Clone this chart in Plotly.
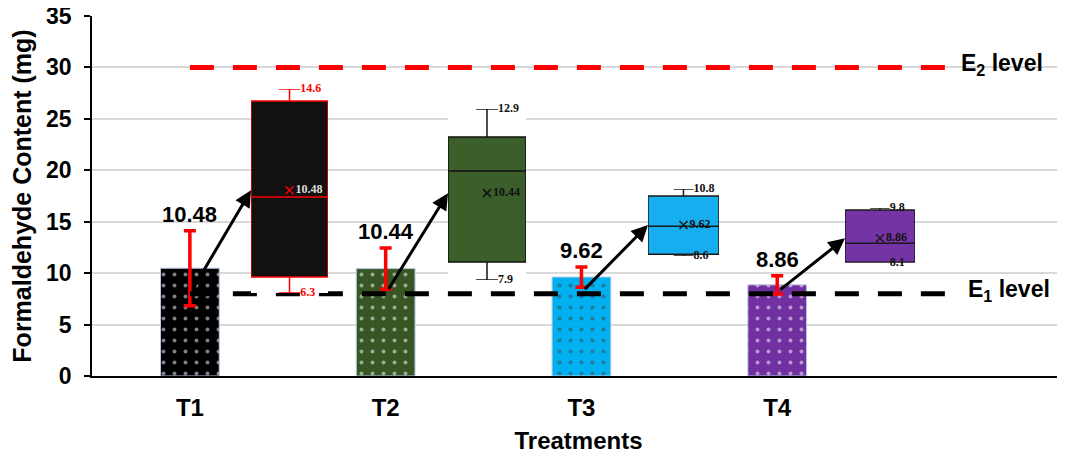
import plotly.graph_objects as go

# ---------------- data ----------------
treatments = ["T1", "T2", "T3", "T4"]
mean_content = [10.48, 10.44, 9.62, 8.86]
error_content = [3.65, 2.0, 0.98, 0.88]

box_min = [6.3, 7.9, 8.6, 8.1]
box_q1 = [6.95, 8.43, 8.66, 8.12]
box_median = [10.21, 11.09, 9.58, 8.71]
box_q3 = [14.11, 12.08, 10.57, 9.74]
box_max = [14.6, 12.9, 10.8, 9.8]
box_mean = [10.48, 10.44, 9.62, 8.86]

E1_LEVEL = 8
E2_LEVEL = 30
level_labels = ["E<sub>1</sub> level", "E<sub>2</sub> level"]

# ---------------- styles / layout ----------------
bar_colors = ["#000000", "#375623", "#00B0F0", "#7030A0"]
box_fill = ["#111111", "#3B5E2B", "#16AEEE", "#7434A6"]
box_line = ["#FF0000", "#111111", "#1a1a1a", "#1a1a1a"]
mean_text_color = ["#dddddd", "#111111", "#111111", "#111111"]
fence_text_color = ["#FF0000", "#111111", "#111111", "#111111"]

FONT = "Liberation Sans, Arial, sans-serif"
SERIF = "Liberation Serif, Times New Roman, serif"
PAGE_OFFSET = 8  # default body margin of the html page
W, H = 1065 - PAGE_OFFSET, 456 - PAGE_OFFSET
ML, MR, MT, MB = 92 - PAGE_OFFSET, 0, 16 - PAGE_OFFSET, 80
X_RANGE = [-0.5, 4.47]
Y_RANGE = [0, 35]

# inset placement (fractions of plot area)
inset_x_domain = [[0.1634, 0.2426], [0.3659, 0.4460], [0.5714, 0.6444], [0.7739, 0.8458]]
inset_y_span = [[8.07, 27.9], [9.33, 25.96], [11.67, 18.18], [11.0, 16.33]]  # main-scale
arrow_tail_y = 8.3
LINE_END = 3.95

fig = go.Figure()

xs = list(range(len(treatments)))

fig.add_trace(go.Bar(
    x=xs, y=mean_content, width=0.30,
    marker=dict(color=bar_colors,
                line=dict(color="#b8c8e6", width=1),
                pattern=dict(shape=".", fgcolor="white", bgcolor=bar_colors,
                             size=11, solidity=0.1)),
    error_y=dict(type="data", array=error_content, color="#FF0000",
                 thickness=3.5, width=6),
    showlegend=False, hoverinfo="skip",
))

# level lines
fig.add_trace(go.Scatter(x=[0, LINE_END], y=[E2_LEVEL, E2_LEVEL], mode="lines",
                         line=dict(color="#FF0000", width=5, dash="24px,19px"),
                         showlegend=False, hoverinfo="skip"))
fig.add_trace(go.Scatter(x=[0, LINE_END], y=[E1_LEVEL, E1_LEVEL], mode="lines",
                         line=dict(color="#000000", width=5, dash="24px,19px"),
                         showlegend=False, hoverinfo="skip"))

annotations = []
for i, t in enumerate(treatments):
    annotations.append(dict(
        x=i, y=mean_content[i] + error_content[i], xref="x", yref="y",
        text=f"{mean_content[i]:.2f}", showarrow=False, yanchor="bottom", yshift=2,
        font=dict(family=FONT, size=22, color="black", weight="bold")))

annotations.append(dict(x=LINE_END, y=E2_LEVEL, xref="x", yref="y", text=level_labels[1],
                        showarrow=False, xanchor="left", xshift=-4, yshift=3,
                        font=dict(family=FONT, size=23, color="black", weight="bold")))
annotations.append(dict(x=LINE_END, y=E1_LEVEL, xref="x", yref="y", text=level_labels[0],
                        showarrow=False, xanchor="left", xshift=3, yshift=3,
                        font=dict(family=FONT, size=23, color="black", weight="bold")))

layout_axes = {}
for k in range(4):
    n = k + 2
    xa, ya = f"x{n}", f"y{n}"
    fig.add_trace(go.Box(
        x=[0], q1=[box_q1[k]], median=[box_median[k]], q3=[box_q3[k]],
        lowerfence=[box_min[k]], upperfence=[box_max[k]],
        width=1, whiskerwidth=0.28, fillcolor=box_fill[k],
        line=dict(color=box_line[k], width=1.5), boxpoints=False,
        xaxis=xa, yaxis=ya, showlegend=False, hoverinfo="skip"))
    fig.add_trace(go.Scatter(
        x=[0], y=[box_mean[k]], mode="markers+text",
        marker=dict(symbol="x-thin", size=8, line=dict(color=box_line[k], width=1.5)),
        text=[f"{box_mean[k]:.2f}"], textposition="middle right",
        textfont=dict(family=SERIF, size=12, color=mean_text_color[k], weight="bold"),
        cliponaxis=False, xaxis=xa, yaxis=ya, showlegend=False, hoverinfo="skip"))
    fig.add_trace(go.Scatter(
        x=[0.14, 0.14], y=[box_min[k], box_max[k]], mode="text",
        text=[f"{box_min[k]}", f"{box_max[k]}"], textposition="middle right",
        textfont=dict(family=SERIF, size=12, color=fence_text_color[k], weight="bold"),
        cliponaxis=False, xaxis=xa, yaxis=ya, showlegend=False, hoverinfo="skip"))
    layout_axes[f"xaxis{n}"] = dict(domain=inset_x_domain[k], range=[-0.5, 0.5],
                                    visible=False, anchor=ya, fixedrange=True,
                                    automargin=False)
    layout_axes[f"yaxis{n}"] = dict(domain=[inset_y_span[k][0] / Y_RANGE[1], inset_y_span[k][1] / Y_RANGE[1]],
                                    range=[box_min[k], box_max[k]],
                                    visible=False, anchor=xa, fixedrange=True,
                                    automargin=False)
    # arrow from bar to inset mean
    d0 = inset_x_domain[k][0]
    head_x = X_RANGE[0] + d0 * (X_RANGE[1] - X_RANGE[0])
    lo, hi = inset_y_span[k]
    head_y = lo + (box_mean[k] - box_min[k]) / (box_max[k] - box_min[k]) * (hi - lo)
    annotations.append(dict(
        x=head_x, y=head_y, ax=k + 0.01, ay=arrow_tail_y, xref="x", yref="y",
        axref="x", ayref="y", showarrow=True, arrowhead=2, arrowsize=1.1,
        arrowwidth=3, arrowcolor="black", text=""))

fig.update_layout(
    width=W, height=H, margin=dict(l=ML, r=MR, t=MT, b=MB, autoexpand=False),
    plot_bgcolor="white", paper_bgcolor="white",
    font=dict(family=FONT, color="black"),
    xaxis=dict(range=X_RANGE, tickvals=xs, ticktext=treatments, showline=True,
               linecolor="black", linewidth=1.5, showgrid=False, zeroline=False,
               ticks="", ticklabelstandoff=9, automargin=False,
               tickfont=dict(family=FONT, size=24, color="black", weight="bold"),
               title=dict(text="Treatments", standoff=13,
                          font=dict(family=FONT, size=24, color="black", weight="bold"))),
    yaxis=dict(range=Y_RANGE, dtick=5, showline=True, linecolor="black", linewidth=1.5,
               ticks="outside", ticklen=6, tickcolor="black", tickwidth=1.5,
               gridcolor="#d9d9d9", gridwidth=1.5, zeroline=False, ticklabelstandoff=8,
               automargin=False, ticklabeloverflow="allow",
               tickfont=dict(family=FONT, size=23, color="black", weight="bold"),
               title=dict(text="Formaldehyde Content (mg)", standoff=10,
                          font=dict(family=FONT, size=25, color="black", weight="bold"))),
    annotations=annotations,
    showlegend=False,
    **layout_axes,
)

fig.write_html("out.html")
